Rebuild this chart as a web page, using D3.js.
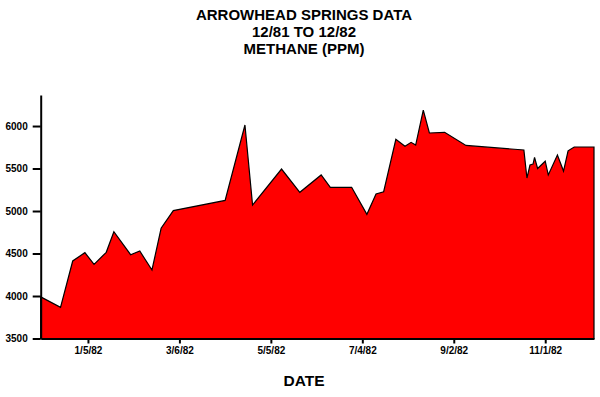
<!DOCTYPE html>
<html>
<head>
<meta charset="utf-8">
<script src="https://cdn.jsdelivr.net/npm/d3@7"></script>
<style>
  body { margin: 0; background: #fff; }
  text { font-family: "Liberation Sans", Arial, sans-serif; font-weight: bold; fill: #000; }
</style>
</head>
<body>
<div id="chart"></div>
<script>
// sample dates and methane readings (ppm)
const dates = [
  "1981-12-05", "1981-12-18", "1981-12-26", "1982-01-03", "1982-01-09",
  "1982-01-17", "1982-01-22", "1982-02-02", "1982-02-08", "1982-02-16",
  "1982-02-22", "1982-03-02", "1982-04-05", "1982-04-18", "1982-04-23",
  "1982-05-12", "1982-05-24", "1982-06-07", "1982-06-13", "1982-06-27",
  "1982-07-07", "1982-07-13", "1982-07-18", "1982-07-26", "1982-08-01",
  "1982-08-05", "1982-08-08", "1982-08-13", "1982-08-17", "1982-08-27",
  "1982-09-10", "1982-10-18", "1982-10-20", "1982-10-22", "1982-10-24",
  "1982-10-25", "1982-10-27", "1982-11-01", "1982-11-03", "1982-11-09",
  "1982-11-13", "1982-11-16", "1982-11-20", "1982-12-03"
];
const methane = [
  3990, 3867, 4412, 4510, 4373,
  4514, 4756, 4486, 4529, 4306,
  4797, 5005, 5125, 6012, 5070,
  5494, 5220, 5424, 5279, 5279,
  4961, 5200, 5227, 5843, 5762,
  5808, 5776, 6188, 5918, 5926,
  5772, 5718, 5388, 5541, 5553,
  5632, 5500, 5586, 5424, 5659,
  5470, 5708, 5753, 5753
];
const xTicks = ["1982-01-05", "1982-03-06", "1982-05-05", "1982-07-04", "1982-09-02", "1982-11-01"];
const yTicks = [3500, 4000, 4500, 5000, 5500, 6000];
const titleLines = ["ARROWHEAD SPRINGS DATA", "12/81 TO 12/82", "METHANE (PPM)"];

const W = 600, H = 397;
const margin = {top: 95, right: 6, bottom: 58.5, left: 40.7};
const width = W - margin.left - margin.right,
      height = H - margin.top - margin.bottom;

const parse = d3.timeParse("%Y-%m-%d");
const fmt = d3.timeFormat("%-m/%-d/%y");
const data = dates.map((d, i) => ({date: parse(d), value: methane[i]}));

const svg = d3.select("#chart").append("svg")
    .attr("width", W)
    .attr("height", H);

const g = svg.append("g")
    .attr("transform", `translate(${margin.left},${margin.top})`);

const x = d3.scaleTime()
    .domain([parse("1981-12-05"), parse("1982-12-03")])
    .range([0, width]);
const y = d3.scaleLinear()
    .domain([3500, 6365])
    .range([height, 0]);

const area = d3.area()
    .x(d => x(d.date))
    .y0(height)
    .y1(d => y(d.value));

g.append("path")
    .datum(data)
    .attr("d", area)
    .attr("fill", "#ff0000")
    .attr("stroke", "#000")
    .attr("stroke-width", 1.2)
    .attr("stroke-linejoin", "miter");

// axes
const yAxis = g.append("g")
    .call(d3.axisLeft(y).tickValues(yTicks).tickFormat(d3.format("d"))
      .tickSize(8).tickPadding(5).tickSizeOuter(0));
const xAxis = g.append("g")
    .attr("transform", `translate(0,${height})`)
    .call(d3.axisBottom(x).tickValues(xTicks.map(parse)).tickFormat(fmt)
      .tickSize(5).tickPadding(3).tickSizeOuter(0));

[xAxis, yAxis].forEach(a => {
  a.select(".domain").attr("stroke", "#000").attr("stroke-width", 2);
  a.selectAll(".tick line").attr("stroke", "#000").attr("stroke-width", 2);
  a.selectAll(".tick text")
    .style("font-family", "'Liberation Sans', Arial, sans-serif")
    .style("font-weight", "bold")
    .style("font-size", "10px")
    .attr("fill", "#000");
});

// title
svg.selectAll(".title").data(titleLines).enter().append("text")
    .attr("class", "title")
    .attr("x", 304)
    .attr("y", (d, i) => 20 + i * 17)
    .attr("text-anchor", "middle")
    .style("font-size", "15px")
    .text(d => d);

svg.append("text")
    .attr("x", 304)
    .attr("y", 385.5)
    .attr("text-anchor", "middle")
    .style("font-size", "15.5px")
    .text("DATE");
</script>
</body>
</html>
